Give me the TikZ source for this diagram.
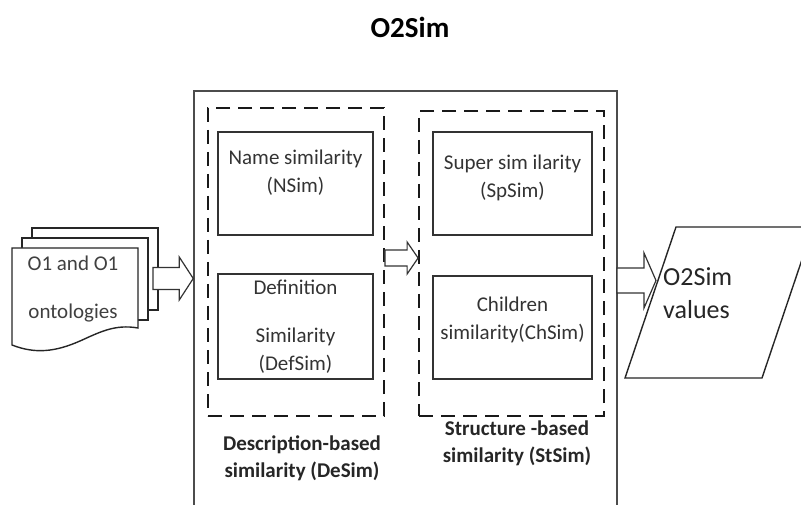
\documentclass[tikz,border=0pt]{standalone}
\usepackage{fontspec}
\setmainfont{Carlito}
\usetikzlibrary{positioning,calc}

\tikzset{
  boxText/.style = {font = \fontsize{21}{28}\selectfont, text = black!80, align = center, inner sep = 0pt},
  simBox/.style = {rectangle, draw, color = black!80, line width = 1.4pt},
  groupBox/.style = {rectangle, draw, color = black!90, line width = 1.8pt, dash pattern = on 14pt off 8pt},
  groupLabel/.style = {boxText, font = \fontsize{21}{27}\selectfont\bfseries, text = black!85},
  fatLine/.style = {draw = black!80, fill = white, line width = 1.2pt, line join = miter},
  pageLine/.style = {draw = black!85, fill = white, line width = 1.4pt},
}

% block arrow: start, tip, shaft half height, head half height, head length
\newcommand{\fatArrow}[5]{%
  \draw[fatLine] ($(#1)+(0, -#3)$) -- ($(#2)+(-#5, -#3)$) -- ($(#2)+(-#5, -#4)$) -- (#2)
    -- ($(#2)+(-#5, #4)$) -- ($(#2)+(-#5, #3)$) -- ($(#1)+(0, #3)$) -- cycle;
}

\begin{document}
\begin{tikzpicture}[x = 1pt, y = -1pt]
        \useasboundingbox (0, 0) rectangle (801, 505);

        \node[font = \fontsize{29}{34}\selectfont\bfseries] (title) at (410, 27) {O2Sim};

        % stack of input pages
        \draw[pageLine] (32, 228) rectangle (158, 310);
        \draw[pageLine] (22, 238) rectangle (148, 320);
        \draw[pageLine] (12, 345) -- (12, 248) -- (138, 248) -- (138, 328)
          .. controls (115, 324) and (100, 332) .. (80, 341)
          .. controls (55, 352) and (35, 354) .. (12, 345) -- cycle;
        \node[boxText, text = black!75] (docs) at (73, 289) {O1 and O1\\[20pt]ontologies};

        % bottom edge of the main box lies off the page
        \node[rectangle, draw, color = black!70, line width = 1.5pt, minimum width = 423pt, minimum height = 440pt] (mainBox) at (405.5, 311) {};

        \node[groupBox, minimum width = 176pt, minimum height = 308pt] (deGroup) at (296, 262) {};
        \node[groupBox, minimum width = 185pt, minimum height = 305pt] (stGroup) at (511.5, 263.5) {};

        \node[simBox, minimum width = 155pt, minimum height = 103pt] (nNode) at (295.5, 183.5) {};
        \node[simBox, minimum width = 155pt, minimum height = 105pt] (defNode) at (295.5, 326.5) {};
        \node[simBox, minimum width = 159pt, minimum height = 103pt] (spNode) at (512.5, 183.5) {};
        \node[simBox, minimum width = 159pt, minimum height = 103pt] (chNode) at (512.5, 327.5) {};

        \node[boxText] (nText) at ([yshift = 10.5pt]nNode.center) {Name similarity\\(NSim)};
        \node[boxText] (defText) at (defNode.center) {Definition\\[20pt]Similarity\\(DefSim)};
        \node[boxText] (spText) at ([yshift = 6pt]spNode.center) {Super sim ilarity\\(SpSim)};
        \node[boxText] (chText) at ([yshift = 7.5pt]chNode.center) {Children\\similarity(ChSim)};

        \node[groupLabel] (deLabel) at (302, 458.5) {Description-based\\similarity (DeSim)};
        \node[groupLabel] (stLabel) at (517, 443.5) {Structure -based\\similarity (StSim)};

        % output
        \draw[pageLine] (625, 378) -- (676, 227) -- (813, 227) -- (762, 378) -- cycle;
        \node[font = \fontsize{26}{33}\selectfont, text = black!85, anchor = west, align = left, inner sep = 0pt] (outText) at (663, 293.5) {O2Sim\\values};

        \coordinate (inStart) at (153, 278.5);
        \coordinate (inTip) at (mainBox.west |- inStart);
        \coordinate (midStart) at ([yshift = 4pt]deGroup.east);
        \coordinate (midTip) at (stGroup.west |- midStart);
        \coordinate (outStart) at (617, 280.5);
        \coordinate (outTip) at (656, 280.5);

        \fatArrow{inStart}{inTip}{11}{21.5}{14}
        \fatArrow{midStart}{midTip}{8}{16}{11}
        \fatArrow{outStart}{outTip}{12.5}{27.5}{12}
      \end{tikzpicture}
\end{document}
